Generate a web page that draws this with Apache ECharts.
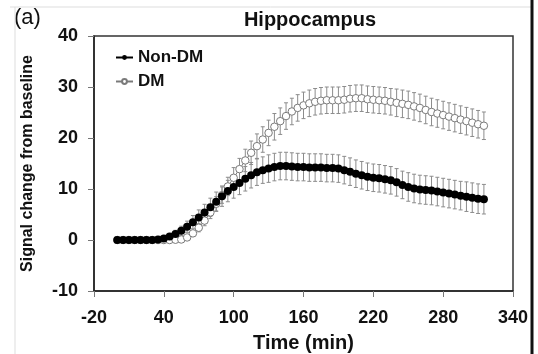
<!DOCTYPE html>
<html>
<head>
<meta charset="utf-8">
<script src="https://cdn.jsdelivr.net/npm/echarts@6/dist/echarts.min.js"></script>
<style>
  html, body { margin: 0; padding: 0; background: #fff; }
  #chart { width: 538px; height: 354px; }
</style>
</head>
<body>
<div id="chart"></div>
<script>
// time points (min)
const times = [0, 5, 10, 15, 20, 25, 30, 35, 40, 45, 50, 55, 60, 65, 70, 75, 80, 85, 90, 95,
  100, 105, 110, 115, 120, 125, 130, 135, 140, 145, 150, 155, 160, 165, 170, 175, 180, 185, 190, 195,
  200, 205, 210, 215, 220, 225, 230, 235, 240, 245, 250, 255, 260, 265, 270, 275, 280, 285, 290, 295,
  300, 305, 310, 315];

const nonDm = [0, 0, 0, 0, 0, 0, 0, 0.1, 0.3, 0.7, 1.2, 1.8, 2.6, 3.5, 4.4, 5.4, 6.4, 7.5, 8.6, 9.6,
  10.4, 11.2, 12.0, 12.7, 13.3, 13.7, 14.0, 14.3, 14.5, 14.5, 14.4, 14.3, 14.3, 14.2, 14.2, 14.2, 14.1, 14.1, 14.0, 13.7,
  13.4, 13.0, 12.7, 12.4, 12.2, 12.1, 11.9, 11.7, 11.3, 10.8, 10.4, 10.1, 9.9, 9.8, 9.7, 9.5, 9.3, 9.1, 8.9, 8.7,
  8.5, 8.3, 8.1, 8.0];
const nonDmErr = [0, 0, 0, 0, 0, 0, 0.1, 0.2, 0.3, 0.5, 0.7, 0.9, 1.1, 1.3, 1.5, 1.6, 1.8, 1.9, 2.0, 2.1,
  2.2, 2.3, 2.4, 2.5, 2.6, 2.6, 2.7, 2.7, 2.7, 2.7, 2.7, 2.7, 2.7, 2.7, 2.7, 2.7, 2.7, 2.7, 2.7, 2.7,
  2.7, 2.7, 2.7, 2.7, 2.7, 2.7, 2.7, 2.7, 2.7, 2.7, 2.8, 2.8, 2.8, 2.8, 2.8, 2.8, 2.8, 2.8, 2.8, 2.8,
  2.9, 2.9, 2.9, 2.9];

const dm = [0, 0, 0, 0, 0, 0, 0, 0, 0, 0, 0.05, 0.1, 0.5, 1.3, 2.4, 3.8, 5.4, 7.1, 8.8, 10.5,
  12.2, 13.9, 15.6, 17.1, 18.4, 19.7, 21.0, 22.2, 23.3, 24.3, 25.2, 25.9, 26.4, 26.8, 27.1, 27.3, 27.4, 27.4, 27.4, 27.5,
  27.7, 27.8, 27.8, 27.6, 27.5, 27.4, 27.3, 27.1, 26.9, 26.7, 26.5, 26.2, 25.9, 25.5, 25.1, 24.8, 24.5, 24.2, 23.9, 23.6,
  23.3, 23.0, 22.7, 22.4];
const dmErr = [0, 0, 0, 0, 0, 0, 0, 0, 0, 0, 0.1, 0.2, 0.4, 0.6, 0.8, 1.0, 1.2, 1.4, 1.6, 1.8,
  2.0, 2.1, 2.2, 2.3, 2.4, 2.5, 2.5, 2.6, 2.6, 2.6, 2.6, 2.6, 2.6, 2.6, 2.6, 2.6, 2.6, 2.6, 2.6, 2.6,
  2.6, 2.6, 2.6, 2.6, 2.6, 2.6, 2.6, 2.6, 2.7, 2.7, 2.7, 2.7, 2.7, 2.7, 2.7, 2.7, 2.7, 2.7, 2.7, 2.7,
  2.7, 2.7, 2.7, 2.7];

const xTicks = [-20, 40, 100, 160, 220, 280, 340];
const yTicks = [-10, 0, 10, 20, 30, 40];

const FONT = 'Liberation Sans, Arial, sans-serif';

function pairs(ys) {
  return times.map((t, i) => [t, ys[i]]);
}
function errRows(ys, es) {
  return times.map((t, i) => [t, ys[i] - es[i], ys[i] + es[i]]);
}

function errorBar(params, api) {
  const lo = api.coord([api.value(0), api.value(1)]);
  const hi = api.coord([api.value(0), api.value(2)]);
  if (Math.abs(lo[1] - hi[1]) < 1) return null;
  const cap = 2;
  const style = {stroke: '#8c8c8c', lineWidth: 1};
  return {
    type: 'group',
    children: [
      {type: 'line', shape: {x1: lo[0], y1: lo[1], x2: hi[0], y2: hi[1]}, style},
      {type: 'line', shape: {x1: lo[0] - cap, y1: lo[1], x2: lo[0] + cap, y2: lo[1]}, style},
      {type: 'line', shape: {x1: hi[0] - cap, y1: hi[1], x2: hi[0] + cap, y2: hi[1]}, style}
    ]
  };
}

const chart = echarts.init(document.getElementById('chart'), null, {renderer: 'canvas'});

chart.setOption({
  animation: false,
  backgroundColor: '#fff',
  textStyle: {fontFamily: FONT},
  title: {
    text: 'Hippocampus',
    left: 305,
    top: 5,
    textAlign: 'center',
    textStyle: {fontFamily: FONT, fontSize: 20, fontWeight: 'bold', color: '#111'}
  },
  legend: {
    orient: 'vertical',
    left: 110,
    top: 44,
    itemGap: 7,
    itemWidth: 17,
    itemHeight: 6,
    data: ['Non-DM', 'DM'],
    textStyle: {fontFamily: FONT, fontSize: 17, fontWeight: 'bold', color: '#111'}
  },
  grid: {
    left: 94, right: 25, top: 36, bottom: 63,
    outerBoundsMode: 'none',
    show: true, borderColor: '#333', borderWidth: 1.5, backgroundColor: '#fff'
  },
  xAxis: {
    type: 'value',
    min: xTicks[0],
    max: xTicks[xTicks.length - 1],
    interval: 60,
    name: 'Time (min)',
    nameLocation: 'middle',
    nameGap: 42,
    nameTextStyle: {fontFamily: FONT, fontSize: 20, fontWeight: 'bold', color: '#111'},
    axisLine: {onZero: false, lineStyle: {color: '#222', width: 1.5}},
    axisTick: {length: 6, lineStyle: {color: '#777'}},
    axisLabel: {margin: 18, fontFamily: FONT, fontSize: 18, fontWeight: 'bold', color: '#111', showMinLabel: true, showMaxLabel: true},
    splitLine: {show: false}
  },
  yAxis: {
    type: 'value',
    min: yTicks[0],
    max: yTicks[yTicks.length - 1],
    interval: 10,
    name: 'Signal change from baseline',
    nameLocation: 'middle',
    nameGap: 58,
    nameTextStyle: {fontFamily: FONT, fontSize: 16, fontWeight: 'bold', color: '#111'},
    axisLine: {show: true, onZero: false, lineStyle: {color: '#222', width: 1.5}},
    axisTick: {show: true, length: 6, lineStyle: {color: '#777'}},
    axisLabel: {margin: 16, fontFamily: FONT, fontSize: 18, fontWeight: 'bold', color: '#111'},
    splitLine: {show: false}
  },
  graphic: [
    {type: 'text', left: 14, top: 7, style: {text: '(a)', font: '22px ' + FONT, fill: '#111'}},
    {type: 'line', shape: {x1: 10, y1: 7, x2: 531, y2: 7}, style: {stroke: '#ddd', lineWidth: 1}},
    {type: 'line', shape: {x1: 15, y1: 7, x2: 15, y2: 354}, style: {stroke: '#ddd', lineWidth: 1}},
    {type: 'line', shape: {x1: 532, y1: 0, x2: 532, y2: 354}, style: {stroke: '#111', lineWidth: 3}}
  ],
  series: [
    {
      name: 'DM err',
      type: 'custom',
      renderItem: errorBar,
      encode: {x: 0, y: [1, 2]},
      data: errRows(dm, dmErr),
      z: 1
    },
    {
      name: 'Non-DM err',
      type: 'custom',
      renderItem: errorBar,
      encode: {x: 0, y: [1, 2]},
      data: errRows(nonDm, nonDmErr),
      z: 1
    },
    {
      name: 'DM',
      type: 'line',
      data: pairs(dm),
      symbol: 'circle',
      symbolSize: 7.5,
      showAllSymbol: true,
      color: '#7a7a7a',
      itemStyle: {color: '#fff', borderColor: '#7a7a7a', borderWidth: 1},
      lineStyle: {color: '#7a7a7a', width: 1},
      z: 3
    },
    {
      name: 'Non-DM',
      type: 'line',
      data: pairs(nonDm),
      symbol: 'circle',
      symbolSize: 8,
      showAllSymbol: true,
      color: '#000',
      itemStyle: {color: '#000', borderColor: '#000', borderWidth: 0},
      lineStyle: {color: '#000', width: 1},
      z: 4
    }
  ]
});
</script>
</body>
</html>
